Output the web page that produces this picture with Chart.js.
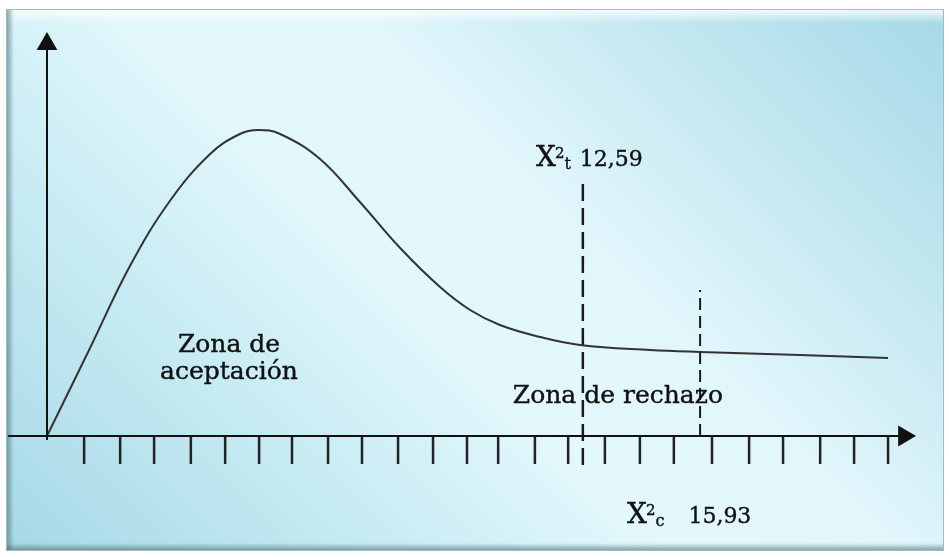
<!DOCTYPE html>
<html>
<head>
<meta charset="utf-8">
<script src="https://cdn.jsdelivr.net/npm/chart.js@4.4.1/dist/chart.umd.min.js"></script>
<style>
  html, body { margin: 0; padding: 0; background: #fff; }
  #wrap { width: 949px; height: 557px; position: relative; }
</style>
</head>
<body>
<div id="wrap"><canvas id="chart"></canvas></div>
<script>
// Curve (x in tick units, y in arbitrary height units)
const curveX = [0, 1.23, 2.37, 3.51, 4.66, 5.51, 6.03, 6.66, 7.8, 8.94, 10.09, 11.23, 12.09, 12.94, 14.09, 15.23, 17.23, 18.66, 21.51, 24.03];
const curveY = [0, 8.8, 17.0, 23.5, 28.2, 30.2, 30.6, 30.2, 27.7, 23.4, 18.8, 14.9, 12.6, 11.1, 9.9, 9.1, 8.6, 8.4, 8.1, 7.8];

// Tick marks under the x axis (hand drawn, so not perfectly even)
const tickPositions = [1.06, 2.09, 3.06, 4.11, 5.09, 6.06, 7.0, 8.03, 9.0, 10.03, 11.03, 12.0, 12.89, 13.94, 14.89, 15.94, 16.94, 17.91, 19.0, 20.06, 21.03, 22.09, 23.06, 24.03];
const tickDepth = -2.8;

// Dashed critical lines: X²t = 12,59 and X²c = 15,93
const criticalX = [15.31, 18.66];
const criticalTop = [25.3, 14.6];
const criticalBottom = [-2.9, 0];

// Axes
const xAxisRange = [-1.11, 24.49];
const yAxisRange = [-0.4, 39.2];

// Texts
const zoneLabels = [
  { text: "Zona de", x: 5.2, y: 8.4 },
  { text: "aceptación", x: 5.2, y: 5.7 },
  { text: "Zona de rechazo", x: 13.31, y: 3.3, align: "left" },
];
const chiLabels = [
  { sub: "t", value: "12,59", x: 13.97, y: 27.0, gap: 9 },
  { sub: "c", value: "15,93", x: 16.57, y: -8.7, gap: 24 },
];

const serif = '"DejaVu Serif", "Liberation Serif", serif';
const ink = "#111111";

const toPoints = (xs, ys) => xs.map((x, i) => ({ x, y: ys[i] }));

const tickData = tickPositions.flatMap((x) => [
  { x, y: 0 },
  { x, y: tickDepth },
  { x, y: null },
]);

const criticalData = (i) => [
  { x: criticalX[i], y: criticalBottom[i] },
  { x: criticalX[i], y: criticalTop[i] },
];

// Panel background with a soft diagonal gradient and bevelled edges
const panelPlugin = {
  id: "panel",
  beforeDraw(chart) {
    const { ctx, width, height } = chart;
    const left = 6, top = 9, right = 944, bottom = 551;
    ctx.save();
    ctx.fillStyle = "#ffffff";
    ctx.fillRect(0, 0, width, height);

    const cx = (left + right) / 2;
    const cy = (top + bottom) / 2;
    const d = ((right - left) / 2 + (bottom - top) / 2) / 2;
    const g = ctx.createLinearGradient(cx - d, cy + d, cx + d, cy - d);
    g.addColorStop(0, "#a6d8e6");
    g.addColorStop(0.3, "#cdeef5");
    g.addColorStop(0.45, "#e3f8fc");
    g.addColorStop(0.6, "#e2f7fc");
    g.addColorStop(0.8, "#c3e7f0");
    g.addColorStop(1, "#a5d9e7");
    ctx.fillStyle = g;
    ctx.fillRect(left, top, right - left, bottom - top);

    // top highlight
    const gt = ctx.createLinearGradient(0, top, 0, top + 14);
    gt.addColorStop(0, "rgba(255,255,255,0.9)");
    gt.addColorStop(1, "rgba(255,255,255,0)");
    ctx.fillStyle = gt;
    ctx.fillRect(left, top, right - left, 14);

    // left shadow
    const gl = ctx.createLinearGradient(left, 0, left + 8, 0);
    gl.addColorStop(0, "rgba(70,105,115,0.65)");
    gl.addColorStop(1, "rgba(70,105,115,0)");
    ctx.fillStyle = gl;
    ctx.fillRect(left, top, 8, bottom - top);

    // bottom shadow
    const gb = ctx.createLinearGradient(0, bottom - 8, 0, bottom);
    gb.addColorStop(0, "rgba(70,105,115,0)");
    gb.addColorStop(1, "rgba(70,105,115,0.65)");
    ctx.fillStyle = gb;
    ctx.fillRect(left, bottom - 8, right - left, 8);

    ctx.strokeStyle = "#9dbcc5";
    ctx.lineWidth = 1;
    ctx.strokeRect(left + 0.5, top + 0.5, right - left - 1, bottom - top - 1);
    ctx.restore();
  },
};

// Text labels placed through the chart scales
const labelPlugin = {
  id: "labels",
  afterDatasetsDraw(chart) {
    const { ctx, scales } = chart;
    ctx.save();
    ctx.fillStyle = ink;
    ctx.strokeStyle = ink;
    ctx.lineWidth = 0.4;
    ctx.textBaseline = "alphabetic";

    const put = (text, x, y) => {
      ctx.fillText(text, x, y);
      ctx.strokeText(text, x, y);
    };

    zoneLabels.forEach((l) => {
      ctx.font = `25px ${serif}`;
      ctx.textAlign = l.align || "center";
      put(l.text, scales.x.getPixelForValue(l.x), scales.y.getPixelForValue(l.y));
    });

    ctx.textAlign = "left";
    chiLabels.forEach((l) => {
      let px = scales.x.getPixelForValue(l.x);
      const py = scales.y.getPixelForValue(l.y);
      ctx.font = `28px ${serif}`;
      put("X", px, py);
      px += ctx.measureText("X").width - 1;
      ctx.font = `15px ${serif}`;
      put("2", px, py - 8);
      px += ctx.measureText("2").width;
      ctx.font = `16px ${serif}`;
      put(l.sub, px, py + 3);
      px += ctx.measureText(l.sub).width + l.gap;
      ctx.font = `22px ${serif}`;
      put(l.value, px, py);
    });
    ctx.restore();
  },
};

const ctx = document.getElementById("chart").getContext("2d");

new Chart(ctx, {
  type: "scatter",
  data: {
    datasets: [
      {
        label: "eje x",
        data: [{ x: xAxisRange[0], y: 0 }, { x: xAxisRange[1], y: 0 }],
        showLine: true,
        borderColor: "#111",
        borderWidth: 2,
        pointStyle: "triangle",
        pointRadius: [0, 10],
        pointRotation: [0, 90],
        pointBackgroundColor: "#111",
        pointBorderColor: "#111",
      },
      {
        label: "eje y",
        data: [{ x: 0, y: yAxisRange[0] }, { x: 0, y: yAxisRange[1] }],
        showLine: true,
        borderColor: "#111",
        borderWidth: 2,
        pointStyle: "triangle",
        pointRadius: [0, 10],
        pointRotation: [0, 0],
        pointBackgroundColor: "#111",
        pointBorderColor: "#111",
      },
      {
        label: "marcas",
        data: tickData,
        showLine: true,
        spanGaps: false,
        borderColor: "#222",
        borderWidth: 2.5,
        pointRadius: 0,
      },
      {
        label: "curva",
        data: toPoints(curveX, curveY),
        showLine: true,
        tension: 0.4,
        borderColor: "#333",
        borderWidth: 2,
        pointRadius: 0,
      },
      {
        label: "X2t",
        data: criticalData(0),
        showLine: true,
        borderColor: "#1a1a1a",
        borderWidth: 2.5,
        borderDash: [17, 7],
        pointRadius: 0,
      },
      {
        label: "X2c",
        data: criticalData(1),
        showLine: true,
        borderColor: "#1a1a1a",
        borderWidth: 2,
        borderDash: [12, 6],
        pointRadius: 0,
      },
    ],
  },
  options: {
    responsive: true,
    maintainAspectRatio: false,
    animation: false,
    layout: { padding: 0, autoPadding: false },
    plugins: {
      legend: { display: false },
      tooltip: { enabled: false },
    },
    scales: {
      x: { type: "linear", display: false, min: -47 / 35, max: 902 / 35 },
      y: { type: "linear", display: false, min: -12.1, max: 43.6 },
    },
  },
  plugins: [panelPlugin, labelPlugin],
});
</script>
</body>
</html>
